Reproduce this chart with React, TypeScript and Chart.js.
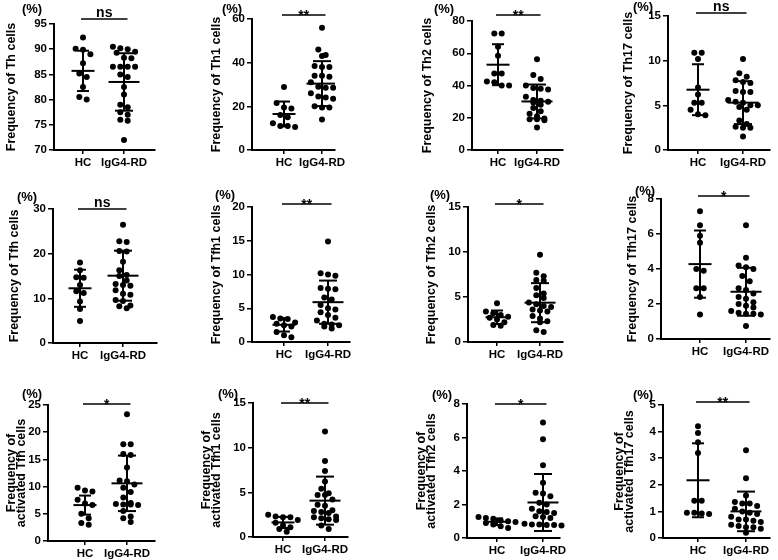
import React, { useEffect, useRef } from "react";
import { Chart, registerables } from "chart.js";
Chart.register(...registerables);

Chart.defaults.font.family = '"Liberation Sans", Arial, Helvetica, sans-serif';

// ---------- DATA ----------
const categories = ["HC", "IgG4-RD"];

const yTitles: (string | string[])[] = [
  "Frequency of Th cells",
  "Frequency of Th1 cells",
  "Frequency of Th2 cells",
  "Frequency of Th17 cells",
  "Frequency of Tfh cells",
  "Frequency of Tfh1 cells",
  "Frequency of Tfh2 cells",
  "Frequency of Tfh17 cells",
  ["Frequency of", "activated Tfh cells"],
  ["Frequency of", "activated Tfh1 cells"],
  ["Frequency of", "activated Tfh2 cells"],
  ["Frequency of", "activated Tfh17 cells"],
];

const significance = ["ns", "**", "**", "ns", "ns", "**", "*", "*", "*", "**", "*", "**"];

const yMin = [70, 0, 0, 0, 0, 0, 0, 0, 0, 0, 0, 0];
const yMax = [95, 60, 80, 15, 30, 20, 15, 8, 25, 15, 8, 5];
const yStep = [5, 20, 20, 5, 10, 5, 5, 2, 5, 5, 2, 1];

const thHC = [92.3, 90.1, 89.9, 89.0, 87.2, 85.2, 84.5, 82.5, 80.0, 80.5];
const thIgG4 = [90.5, 90.2, 90.0, 89.5, 89.3, 88.3, 88.2, 86.5, 86.5, 86.5, 86.5, 85.0, 84.5, 82.5, 81.0, 79.0, 78.5, 77.5, 77.0, 76.0, 75.8, 72.0];
const th1HC = [28.8, 21.5, 19.5, 19.0, 16.0, 15.0, 12.2, 11.0, 11.0, 10.5];
const th1IgG4 = [56, 46, 43.5, 43, 38.5, 38, 38, 34, 34, 33.5, 31, 29, 28.5, 28.5, 26, 24.5, 24, 23.5, 20, 19.5, 19.5, 14];
const th2HC = [72.2, 72.2, 64, 58.5, 47.5, 47.5, 42.5, 42, 40, 40];
const th2IgG4 = [56.3, 46.5, 44, 40, 38.5, 38, 37.5, 33, 31, 30.5, 30, 29.5, 28, 26, 24, 22.5, 21, 19.5, 19, 19, 18.5, 14];
const th17HC = [10.9, 10.9, 10.2, 7.0, 6.2, 5.3, 5.3, 4.5, 4.0, 3.9];
const th17IgG4 = [10.2, 8.6, 8.2, 7.8, 7.6, 7.5, 6.6, 6.5, 6.5, 5.6, 5.4, 5.3, 5.0, 5.0, 4.8, 4.5, 3.3, 2.9, 2.6, 2.5, 2.5, 1.5];
const tfhHC = [18, 16.3, 14.7, 14.6, 13, 11.6, 11.2, 9.3, 7.6, 4.9];
const tfhIgG4 = [26.5, 22.8, 22.6, 20.6, 20.5, 18.2, 16.3, 15.2, 15.0, 14.0, 13.2, 13.0, 12.8, 11.8, 11.0, 10.8, 9.6, 9.4, 8.4, 8.2, 7.8];
const tfh1HC = [3.7, 3.5, 3.4, 2.9, 2.7, 2.5, 2.3, 1.5, 1.0, 0.7];
const tfh1IgG4 = [14.9, 10.2, 10.0, 9.8, 8.0, 7.9, 7.8, 6.6, 6.3, 5.5, 5.0, 4.8, 4.4, 4.0, 3.6, 3.2, 2.7, 2.6, 2.5, 2.3, 2.0];
const tfh2HC = [4.3, 3.4, 3.2, 3.0, 2.8, 2.7, 2.5, 2.2, 1.9, 1.8];
const tfh2IgG4 = [9.7, 7.7, 7.3, 6.9, 6.8, 6.0, 5.4, 5.2, 4.9, 4.4, 4.2, 4.0, 3.9, 3.6, 3.5, 3.4, 2.9, 2.6, 2.3, 2.2, 1.3, 1.1];
const tfh17HC = [7.3, 6.5, 5.9, 5.5, 4.0, 3.9, 2.9, 2.9, 2.4, 1.4];
const tfh17IgG4 = [6.5, 4.65, 4.2, 4.1, 4.0, 3.6, 3.3, 2.9, 2.8, 2.6, 2.4, 2.3, 2.1, 2.0, 1.9, 1.8, 1.6, 1.5, 1.45, 1.45, 1.4, 0.75];
const actTfhHC = [9.8, 9.3, 9.1, 7.6, 6.9, 6.6, 5.0, 4.2, 3.3, 3.0];
const actTfhIgG4 = [23.3, 17.8, 17.8, 16.0, 15.8, 13.5, 11.1, 11.0, 10.4, 9.8, 9.0, 8.0, 7.0, 6.8, 6.7, 6.7, 6.6, 5.5, 4.5, 4.2, 3.5];
const actTfh1HC = [2.5, 2.3, 2.2, 2.2, 1.9, 1.6, 1.3, 1.1, 0.9, 0.6];
const actTfh1IgG4 = [11.8, 8.5, 7.4, 6.2, 5.4, 4.9, 4.7, 4.7, 4.2, 3.6, 3.5, 3.0, 2.9, 2.8, 2.7, 2.3, 2.2, 2.1, 2.0, 1.9, 1.3, 0.9];
const actTfh2HC = [1.25, 1.2, 1.15, 1.05, 1.0, 0.95, 0.9, 0.8, 0.7, 0.6];
const actTfh2IgG4 = [6.9, 5.9, 4.35, 3.3, 2.7, 2.65, 2.5, 2.1, 2.0, 1.75, 1.6, 1.55, 1.5, 1.3, 1.25, 1.2, 0.85, 0.8, 0.8, 0.78, 0.78, 0.75];
const actTfh17HC = [4.2, 3.95, 3.6, 3.2, 1.4, 1.4, 0.95, 0.95, 0.92, 0.9];
const actTfh17IgG4 = [3.3, 2.25, 1.6, 1.35, 1.3, 1.3, 1.2, 1.1, 1.0, 0.95, 0.9, 0.8, 0.7, 0.7, 0.65, 0.6, 0.5, 0.45, 0.4, 0.4, 0.35, 0.2];

const hcValues = [thHC, th1HC, th2HC, th17HC, tfhHC, tfh1HC, tfh2HC, tfh17HC, actTfhHC, actTfh1HC, actTfh2HC, actTfh17HC];
const igValues = [thIgG4, th1IgG4, th2IgG4, th17IgG4, tfhIgG4, tfh1IgG4, tfh2IgG4, tfh17IgG4, actTfhIgG4, actTfh1IgG4, actTfh2IgG4, actTfh17IgG4];

// mean and SD as drawn in the reference
const hcMean = [85.7, 16.5, 52.9, 6.75, 12.25, 2.55, 2.75, 4.28, 6.6, 1.63, 0.97, 2.17];
const hcSD = [4.0, 5.7, 12.7, 2.85, 4.15, 1.0, 0.75, 1.92, 1.75, 0.62, 0.2, 1.39];
const igMean = [83.5, 30.4, 30.1, 5.3, 15.07, 5.9, 4.37, 2.7, 10.6, 4.07, 2.12, 1.0];
const igSD = [5.7, 10.3, 10.5, 2.4, 5.6, 3.2, 2.17, 1.37, 5.1, 2.69, 1.7, 0.745];

// ---------- LAYOUT (page pixels) ----------
type Frame = { L: number; R: number; T: number; B: number; hc: number; ig: number; tx: number; px: number; py: number; sig: number };
const frames: Frame[] = [
  { L: 54, R: 155, T: 24, B: 150, hc: 83, ig: 124, tx: 12, px: 32, py: 9, sig: 5 },
  { L: 252, R: 335, T: 19, B: 150, hc: 284, ig: 322, tx: 217, px: 232, py: 9, sig: 4 },
  { L: 472, R: 563, T: 21, B: 150, hc: 498, ig: 537, tx: 428, px: 444, py: 9, sig: 6 },
  { L: 668, R: 770, T: 16, B: 150, hc: 698, ig: 743, tx: 629, px: 643, py: 7, sig: 3 },
  { L: 53, R: 157, T: 209, B: 343, hc: 80, ig: 123, tx: 15, px: 27, py: 197, sig: 0 },
  { L: 252, R: 350, T: 207, B: 342, hc: 284, ig: 328, tx: 217, px: 225, py: 195, sig: 3 },
  { L: 468, R: 563, T: 207, B: 342, hc: 497, ig: 540, tx: 432, px: 440, py: 195, sig: 3 },
  { L: 661, R: 770, T: 199, B: 339, hc: 700, ig: 746, tx: 633, px: 645, py: 191, sig: 3 },
  { L: 48, R: 155, T: 405, B: 541, hc: 85, ig: 127, tx: 12, px: 32, py: 394, sig: 1 },
  { L: 253, R: 348, T: 403, B: 537, hc: 283, ig: 325, tx: 207, px: 228, py: 394, sig: 0 },
  { L: 467, R: 560, T: 404, B: 538, hc: 497, ig: 543, tx: 422, px: 442, py: 395, sig: 0 },
  { L: 663, R: 770, T: 405, B: 538, hc: 698, ig: 746, tx: 620, px: 643, py: 395, sig: 3 },
];

const W = 778;
const H = 560;
const DOT_R = 3;
const SPACING = 7.4;
const ROW_GAP = 5.6;
const TICK_FONT = 11.5;
const TITLE_FONT = 12.5;

function swarm(values: number[], center: number, pxPerY: number, pxPerX: number) {
  const order = values.map((_, i) => i).sort((a, b) => values[b] - values[a]);
  const out: { x: number; y: number }[] = new Array(values.length);
  let row: number[] = [];
  const flush = () => {
    const k = row.length;
    row.forEach((id, j) => {
      out[id] = { x: center + ((j - (k - 1) / 2) * SPACING) / pxPerX, y: values[id] };
    });
    row = [];
  };
  for (const id of order) {
    if (row.length && (values[row[0]] - values[id]) * pxPerY > ROW_GAP) flush();
    row.push(id);
  }
  flush();
  return out;
}

function seg(data: { x: number; y: number }[], width = 2, clip: any = undefined) {
  const d: any = {
    type: "line",
    data,
    showLine: true,
    borderColor: "#000",
    borderWidth: width,
    pointRadius: 0,
    pointHoverRadius: 0,
    fill: false,
    tension: 0,
    borderCapStyle: "butt",
  };
  if (clip !== undefined) d.clip = clip;
  return d;
}

const textPlugin = {
  id: "panelText",
  afterDatasetsDraw(chart: any, _args: any, opts: any) {
    const { ctx } = chart;
    const xs = chart.scales.x;
    const ys = chart.scales.y;
    ctx.save();
    ctx.fillStyle = "#000";
    ctx.textAlign = "center";
    ctx.font = `bold 13px "Liberation Sans", Arial, sans-serif`;
    ctx.textBaseline = "middle";
    ctx.fillText("(%)", opts.px, opts.py);
    const cx = (xs.getPixelForValue(opts.x1) + xs.getPixelForValue(opts.x2)) / 2;
    const ly = ys.getPixelForValue(opts.sigY);
    ctx.font = `bold 14px "Liberation Sans", Arial, sans-serif`;
    if (opts.label === "ns") {
      ctx.textBaseline = "alphabetic";
      ctx.fillText("ns", cx, ly - 2);
    } else {
      ctx.textBaseline = "middle";
      ctx.fillText(opts.label, cx, ly + 1.5);
    }
    ctx.restore();
  },
};

function buildConfig(i: number): any {
  const f = frames[i];
  const pxPerY = (f.B - f.T) / (yMax[i] - yMin[i]);
  const p1 = (f.hc - f.L) / (f.R - f.L);
  const p2 = (f.ig - f.L) / (f.R - f.L);
  const span = 1 / (p2 - p1);
  const xmin = 1 - p1 * span;
  const xmax = xmin + span;
  const pxPerX = (f.R - f.L) / span;

  const multi = Array.isArray(yTitles[i]);
  const lh = multi ? 0.78 : 1.2;
  const yWidth = f.L - f.tx + (TITLE_FONT * lh) / 2;

  const groups = [
    { c: 1, vals: hcValues[i], m: hcMean[i], s: hcSD[i], mw: 11.5, cw: 6 },
    { c: 2, vals: igValues[i], m: igMean[i], s: igSD[i], mw: 15.5, cw: 9 },
  ];

  const datasets: any[] = [];
  for (const g of groups) {
    datasets.push({
      type: "scatter",
      data: swarm(g.vals, g.c, pxPerY, pxPerX),
      pointRadius: DOT_R,
      pointHoverRadius: DOT_R,
      pointBackgroundColor: "#000",
      pointBorderWidth: 0,
      clip: false,
    });
  }
  for (const g of groups) {
    const mw = g.mw / pxPerX;
    const cw = g.cw / pxPerX;
    datasets.push(seg([{ x: g.c - mw, y: g.m }, { x: g.c + mw, y: g.m }]));
    datasets.push(seg([{ x: g.c, y: g.m - g.s }, { x: g.c, y: g.m + g.s }]));
    datasets.push(seg([{ x: g.c - cw, y: g.m + g.s }, { x: g.c + cw, y: g.m + g.s }]));
    datasets.push(seg([{ x: g.c - cw, y: g.m - g.s }, { x: g.c + cw, y: g.m - g.s }]));
  }
  const sigY = yMax[i] + f.sig / pxPerY;
  const x1 = 1 - 2 / pxPerX;
  const x2 = 2 + 3.5 / pxPerX;
  datasets.push(seg([{ x: x1, y: sigY }, { x: x2, y: sigY }], 1.3, false));

  const tickFont = { size: TICK_FONT, weight: "bold" as const };
  return {
    type: "scatter",
    data: { datasets },
    plugins: [textPlugin],
    options: {
      animation: false,
      responsive: false,
      devicePixelRatio: 1,
      events: [],
      layout: { padding: { left: f.L - yWidth, right: W - f.R, top: f.T, bottom: 0 } },
      plugins: {
        legend: { display: false },
        tooltip: { enabled: false },
        panelText: { px: f.px, py: f.py, x1, x2, sigY, label: significance[i] },
      },
      scales: {
        x: {
          type: "linear",
          min: xmin,
          max: xmax,
          afterBuildTicks: (s: any) => {
            s.ticks = [{ value: 1 }, { value: 2 }];
          },
          afterFit: (s: any) => {
            s.height = H - f.B;
          },
          grid: { display: true, drawOnChartArea: false, drawTicks: true, tickLength: 4, color: "#000", lineWidth: 1.5 },
          border: { display: true, color: "#000", width: 2 },
          ticks: {
            autoSkip: false,
            maxRotation: 0,
            minRotation: 0,
            padding: 2,
            color: "#000",
            font: tickFont,
            callback: (v: number) => (v === 1 ? categories[0] : v === 2 ? categories[1] : ""),
          },
        },
        y: {
          type: "linear",
          min: yMin[i],
          max: yMax[i],
          afterFit: (s: any) => {
            s.width = yWidth;
          },
          grid: { display: true, drawOnChartArea: false, drawTicks: true, tickLength: 5, color: "#000", lineWidth: 1.5 },
          border: { display: true, color: "#000", width: 2 },
          ticks: { stepSize: yStep[i], autoSkip: false, padding: 2, color: "#000", font: tickFont },
          title: {
            display: true,
            text: yTitles[i],
            color: "#000",
            padding: 0,
            font: { size: TITLE_FONT, weight: "bold", lineHeight: lh },
          },
        },
      },
    },
  };
}

function Panel({ i }: { i: number }) {
  const ref = useRef<HTMLCanvasElement>(null);
  useEffect(() => {
    const chart = new Chart(ref.current as HTMLCanvasElement, buildConfig(i));
    return () => chart.destroy();
  }, [i]);
  return (
    <canvas
      ref={ref}
      width={W}
      height={H}
      style={{ position: "absolute", left: 0, top: 0, width: W, height: H }}
    />
  );
}

export default function App() {
  return (
    <div style={{ position: "absolute", left: 0, top: 0, width: W, height: H, background: "#fff" }}>
      {frames.map((_, i) => (
        <Panel key={i} i={i} />
      ))}
    </div>
  );
}
